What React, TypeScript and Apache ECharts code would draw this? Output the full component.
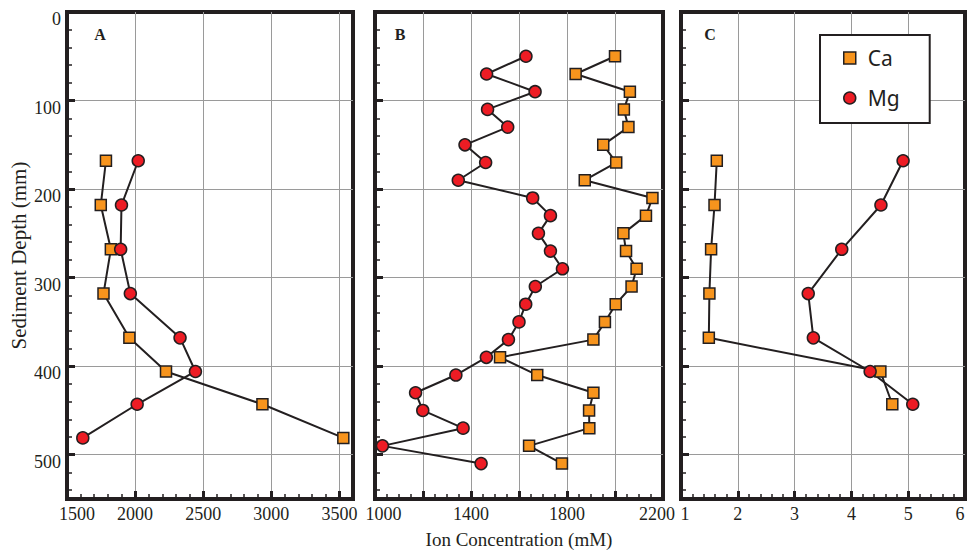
import { useEffect, useRef } from "react";
import * as echarts from "echarts";

// Panel A
const depthA = [168, 218, 268, 318, 368, 406, 443, 481];
const caA = [1786, 1748, 1822, 1768, 1958, 2227, 2935, 3529];
const mgA = [2023, 1900, 1894, 1965, 2330, 2443, 2015, 1616];

// Panel B
const depthB = [50, 70, 90, 110, 130, 150, 170, 190, 210, 230, 250, 270, 290, 310, 330, 350, 370, 390, 410, 430, 450, 470, 490, 510];
const caB = [2000, 1836, 2062, 2037, 2056, 1951, 2005, 1874, 2156, 2129, 2035, 2046, 2090, 2069, 2003, 1958, 1910, 1521, 1676, 1910, 1892, 1893, 1642, 1779];
const mgB = [1629, 1465, 1667, 1469, 1553, 1375, 1461, 1347, 1657, 1731, 1681, 1731, 1781, 1668, 1628, 1600, 1556, 1464, 1337, 1169, 1199, 1367, 1031, 1442];

// Panel C
const depthC = [168, 218, 268, 318, 368, 406, 443];
const caC = [1.63, 1.59, 1.53, 1.5, 1.49, 4.51, 4.72];
const mgC = [4.91, 4.52, 3.83, 3.24, 3.33, 4.33, 5.08];

const labelsB = [1000, 1400, 1800, 2200];
const panelNames = ["A", "B", "C"];

const INK = "#231F20";
const CA_COLOR = "#F7941D";
const MG_COLOR = "#ED1C24";
const GRID_GRAY = "#9a9a9a";
const SERIF = '"Liberation Serif", "Times New Roman", serif';
const SANS = '"Noto Sans", "Open Sans", sans-serif';

export default function App() {
  const ref = useRef<HTMLDivElement>(null);

  useEffect(() => {
    document.body.style.margin = "0";
    const chart = echarts.init(ref.current!, null, { renderer: "svg" });

    const gridBoxes = [
      { left: 67, top: 12, width: 286, height: 487 },
      { left: 375, top: 12, width: 288, height: 487 },
      { left: 681, top: 12, width: 284, height: 487 },
    ];
    const grids = gridBoxes.map((g) => ({
      ...g,
      show: true,
      containLabel: false,
      outerBoundsMode: "none",
      borderColor: INK,
      borderWidth: 4,
      backgroundColor: "transparent",
    }));

    const richBase = { fontFamily: SERIF, fontSize: 18, color: INK };

    const mainX = (gridIndex: number, min: number, max: number, interval: number, formatter: any, rich: any, extra: any = {}) => ({
      type: "value",
      gridIndex,
      min,
      max,
      interval,
      position: "bottom",
      axisLine: { show: false, onZero: false },
      axisTick: { show: true, inside: true, length: 8, lineStyle: { color: INK, width: 3 } },
      axisLabel: {
        show: true,
        margin: 6,
        color: INK,
        fontFamily: SERIF,
        fontSize: 18,
        formatter,
        rich,
        showMinLabel: true,
        showMaxLabel: true,
      },
      splitLine: { show: true, showMinLine: false, showMaxLine: false, lineStyle: { color: GRID_GRAY, width: 1 } },
      ...extra,
    });

    const minorX = (gridIndex: number, min: number, max: number, interval: number) => ({
      type: "value",
      gridIndex,
      min,
      max,
      interval,
      position: "bottom",
      axisLine: { show: false, onZero: false },
      axisTick: { show: true, inside: true, length: 5, lineStyle: { color: INK, width: 1.5 } },
      axisLabel: { show: false },
      splitLine: { show: false },
    });

    const mainY = (gridIndex: number, showLabels: boolean, extra: any = {}) => ({
      type: "value",
      gridIndex,
      min: 0,
      max: 550,
      interval: 100,
      inverse: true,
      position: "left",
      axisLine: { show: false, onZero: false },
      axisTick: { show: true, inside: true, length: 8, lineStyle: { color: INK, width: 3 } },
      axisLabel: {
        show: showLabels,
        margin: 6,
        color: INK,
        fontFamily: SERIF,
        fontSize: 18,
        verticalAlign: "top",
        lineHeight: 14,
        formatter: (v: number) => (v === 550 ? "" : String(v)),
      },
      splitLine: { show: true, showMinLine: false, showMaxLine: false, lineStyle: { color: GRID_GRAY, width: 1 } },
      ...extra,
    });

    const minorY = (gridIndex: number) => ({
      type: "value",
      gridIndex,
      min: 0,
      max: 550,
      interval: 20,
      inverse: true,
      position: "left",
      axisLine: { show: false, onZero: false },
      axisTick: { show: true, inside: true, length: 5, lineStyle: { color: INK, width: 1.5 } },
      axisLabel: { show: false },
      splitLine: { show: false },
    });

    const xAxes = [
      mainX(
        0, 1500, 3600, 500,
        (v: number) => (v === 3600 ? "" : v === 1500 ? `{min|${v}}` : String(v)),
        { min: { ...richBase, padding: [0, 0, 0, 20] } }
      ),
      mainX(
        1, 1000, 2200, 200,
        (v: number) => {
          if (!labelsB.includes(v)) return "";
          if (v === 1000) return `{min|${v}}`;
          if (v === 2200) return `{max|${v}}`;
          return String(v);
        },
        { min: { ...richBase, padding: [0, 0, 0, 17] }, max: { ...richBase, padding: [0, 12, 0, 0] } },
        {
          name: "Ion Concentration (mM)",
          nameLocation: "middle",
          nameGap: 31,
          nameTextStyle: { fontFamily: SERIF, fontSize: 19, color: INK },
        }
      ),
      mainX(
        2, 1, 6, 1,
        (v: number) => (v === 1 ? `{min|${v}}` : v === 6 ? `{max|${v}}` : String(v)),
        { min: { ...richBase, padding: [0, 0, 0, 8] }, max: { ...richBase, padding: [0, 10, 0, 0] } }
      ),
      minorX(0, 1500, 3600, 100),
      minorX(1, 1000, 2200, 50),
      minorX(2, 1, 6, 0.2),
    ];

    const yAxes = [
      mainY(0, true, {
        name: "Sediment Depth (mm)",
        nameLocation: "middle",
        nameGap: 38,
        nameRotate: 90,
        nameTextStyle: { fontFamily: SERIF, fontSize: 21, color: INK },
      }),
      mainY(1, false),
      mainY(2, false),
      minorY(0),
      minorY(1),
      minorY(2),
    ];

    const mk = (name: string, idx: number, values: number[], depth: number[]) => {
      const isCa = name === "Ca";
      return {
        type: "line",
        name,
        xAxisIndex: idx,
        yAxisIndex: idx,
        data: depth.map((d, i) => [values[i], d]),
        symbol: isCa ? "rect" : "circle",
        symbolSize: isCa ? 11 : 12,
        showSymbol: true,
        clip: false,
        lineStyle: { color: INK, width: 2 },
        itemStyle: { color: isCa ? CA_COLOR : MG_COLOR, borderColor: INK, borderWidth: 1.5 },
        emphasis: { disabled: true },
        silent: true,
        z: 3,
      };
    };

    const series = [
      mk("Ca", 0, caA, depthA),
      mk("Mg", 0, mgA, depthA),
      mk("Ca", 1, caB, depthB),
      mk("Mg", 1, mgB, depthB),
      mk("Ca", 2, caC, depthC),
      mk("Mg", 2, mgC, depthC),
    ];

    const letterX = [100, 400, 710];
    const graphic = panelNames.map((t, i) => ({
      type: "text",
      x: letterX[i],
      y: 34,
      z: 10,
      style: {
        text: t,
        font: `bold 16px ${SERIF}`,
        fill: INK,
        align: "center",
        verticalAlign: "middle",
        textAlign: "center",
        textVerticalAlign: "middle",
      },
    }));

    chart.setOption({
      animation: false,
      grid: grids,
      xAxis: xAxes,
      yAxis: yAxes,
      series,
      legend: {
        orient: "vertical",
        left: 820,
        top: 35,
        data: [
          { name: "Ca", icon: "rect" },
          { name: "Mg", icon: "circle" },
        ],
        itemWidth: 12,
        itemHeight: 12,
        itemGap: 16,
        padding: [11, 30, 13, 23],
        borderColor: INK,
        borderWidth: 2,
        backgroundColor: "#fff",
        selectedMode: false,
        textStyle: { fontFamily: SANS, fontSize: 21, color: INK, lineHeight: 24, padding: [0, 0, 0, 7] },
        itemStyle: { borderColor: INK, borderWidth: 1.5 },
        lineStyle: { width: 0 },
      },
      graphic,
    });

    return () => chart.dispose();
  }, []);

  return (
    <div
      ref={ref}
      style={{ position: "absolute", left: 0, top: 0, width: 967, height: 550, background: "#fff" }}
    />
  );
}
